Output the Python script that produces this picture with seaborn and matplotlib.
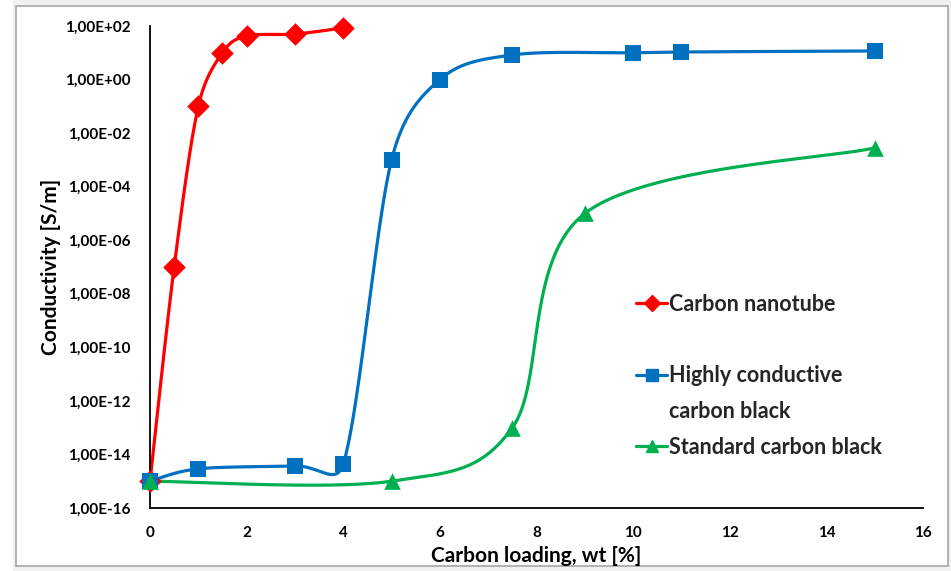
import numpy as np
import pandas as pd
import matplotlib
matplotlib.use("Agg")
import matplotlib.pyplot as plt
import seaborn as sns
from matplotlib.patches import Rectangle
from matplotlib.lines import Line2D

# ---- data ----
cnt_x = [0, 0.5, 1, 1.5, 2, 3, 4]
cnt_y = [1e-15, 1e-7, 1e-1, 10, 42, 50, 85]

hccb_x = [0, 1, 3, 4, 5, 6, 7.5, 10, 11, 15]
hccb_y = [1e-15, 2.9e-15, 3.7e-15, 4.4e-15, 1e-3, 1, 8.3, 10, 10.7, 11.7]

scb_x = [0, 5, 7.5, 9, 15]
scb_y = [1e-15, 1e-15, 1e-13, 1e-5, 2.8e-3]

series_names = ["Carbon nanotube", "Highly conductive\ncarbon black", "Standard carbon black"]
xticks = [0, 2, 4, 6, 8, 10, 12, 14, 16]
yticks = [1e-16, 1e-14, 1e-12, 1e-10, 1e-8, 1e-6, 1e-4, 1e-2, 1e0, 1e2]
ytick_labels = ["1,00E-16", "1,00E-14", "1,00E-12", "1,00E-10", "1,00E-08",
                "1,00E-06", "1,00E-04", "1,00E-02", "1,00E+00", "1,00E+02"]

colors = ["#FF0000", "#0070C0", "#00B050"]
markers = ["D", "s", "^"]
msizes = [11.5, 11, 12]


def smooth(xs, ys, kx=48.2, ky=26.78, n=40):
    """Excel-like smoothed line (Bezier with limited control arms) in screen-like space."""
    P = np.column_stack([np.asarray(xs, float) * kx, np.log10(ys) * ky])
    pts = []
    for i in range(len(P) - 1):
        p0 = P[i - 1] if i > 0 else P[i]
        p1, p2 = P[i], P[i + 1]
        p3 = P[i + 2] if i + 2 < len(P) else P[i + 1]
        d12 = np.linalg.norm(p2 - p1)
        d02 = np.linalg.norm(p2 - p0)
        d13 = np.linalg.norm(p3 - p1)
        f1 = 1 / 6.0
        f2 = 1 / 6.0
        if d02 > 0 and d02 / 6.0 > d12 / 2.0:
            f1 = d12 / (2.0 * d02)
        if d13 > 0 and d13 / 6.0 > d12 / 2.0:
            f2 = d12 / (2.0 * d13)
        c1 = p1 + (p2 - p0) * f1
        c2 = p2 - (p3 - p1) * f2
        t = np.linspace(0, 1, n)[:, None]
        seg = ((1 - t) ** 3) * p1 + 3 * ((1 - t) ** 2) * t * c1 + 3 * (1 - t) * t ** 2 * c2 + t ** 3 * p2
        pts.append(seg if i == 0 else seg[1:])
    pts = np.vstack(pts)
    return pts[:, 0] / kx, 10 ** (pts[:, 1] / ky)


sns.set_theme(style="white")
plt.rcParams["font.family"] = ["Lato", "DejaVu Sans"]
plt.rcParams["font.weight"] = "bold"

fig = plt.figure(figsize=(9.51, 5.71), dpi=100)
fig.patch.set_facecolor("white")
fig.patches.append(Rectangle((13 / 951, 0), 1, 1, transform=fig.transFigure,
                             facecolor="#F0F0F0", edgecolor="none", zorder=-3))
fig.patches.append(Rectangle((16 / 951, 1 - 566 / 571), (948 - 16) / 951, (566 - 6) / 571,
                             transform=fig.transFigure, facecolor="white",
                             edgecolor="#A6A6A6", linewidth=1.2, zorder=-2))

ax = fig.add_axes([150 / 951, 1 - 508 / 571, (923 - 150) / 951, (508 - 26) / 571])
ax.set_facecolor("none")
ax.set_yscale("log")

all_data = [(cnt_x, cnt_y), (hccb_x, hccb_y), (scb_x, scb_y)]
for (xs, ys), name, c, m, ms in zip(all_data, series_names, colors, markers, msizes):
    sx, sy = smooth(xs, ys)
    sns.lineplot(x=sx, y=sy, ax=ax, sort=False, estimator=None, color=c, linewidth=2.3)
    sns.scatterplot(x=xs, y=ys, ax=ax, marker=m, s=ms ** 2, color=c, edgecolor=c,
                    linewidth=0, zorder=5, clip_on=False)

ax.set_xlim(0, 16)
ax.set_ylim(1e-16, 1e2)
ax.set_xticks(xticks)
ax.set_xticklabels([str(v) for v in xticks])
ax.set_yticks(yticks)
ax.set_yticklabels(ytick_labels)
ax.yaxis.set_minor_locator(matplotlib.ticker.NullLocator())

for s in ["top", "right"]:
    ax.spines[s].set_visible(False)
for s in ["left", "bottom"]:
    ax.spines[s].set_color("black")
    ax.spines[s].set_linewidth(1.3)

ax.tick_params(axis="both", which="major", direction="out", length=5, width=1.3,
               color="black", labelsize=11, labelcolor="black")
ax.tick_params(axis="y", pad=9)
ax.tick_params(axis="x", pad=8)
for lab in ax.get_xticklabels() + ax.get_yticklabels():
    lab.set_fontweight("bold")

ax.set_xlabel("Carbon loading, wt [%]", fontsize=15, fontweight="bold", color="black", labelpad=4)
ax.set_ylabel("Conductivity [S/m]", fontsize=15, fontweight="bold", color="black", labelpad=3)

# legend
handles = [
    Line2D([], [], color=colors[0], marker=markers[0], markersize=8, linewidth=2.3),
    Line2D([], [], color="none"),
    Line2D([], [], color=colors[1], marker=markers[1], markersize=8, linewidth=2.3),
    Line2D([], [], color="none"),
    Line2D([], [], color=colors[2], marker=markers[2], markersize=9, linewidth=2.3),
]
labels = ["Carbon nanotube", " ", "Highly conductive", "carbon black", "Standard carbon black"]
leg = ax.legend(handles, labels, loc="upper left", bbox_to_anchor=((636 - 150) / 773, (508 - 294) / 482),
                frameon=False, handlelength=1.45, handletextpad=0.1,
                labelspacing=0.68, borderaxespad=0, borderpad=0,
                prop={"weight": "bold", "size": 15.5})

fig.savefig("out.png", dpi=100, facecolor=fig.get_facecolor())
